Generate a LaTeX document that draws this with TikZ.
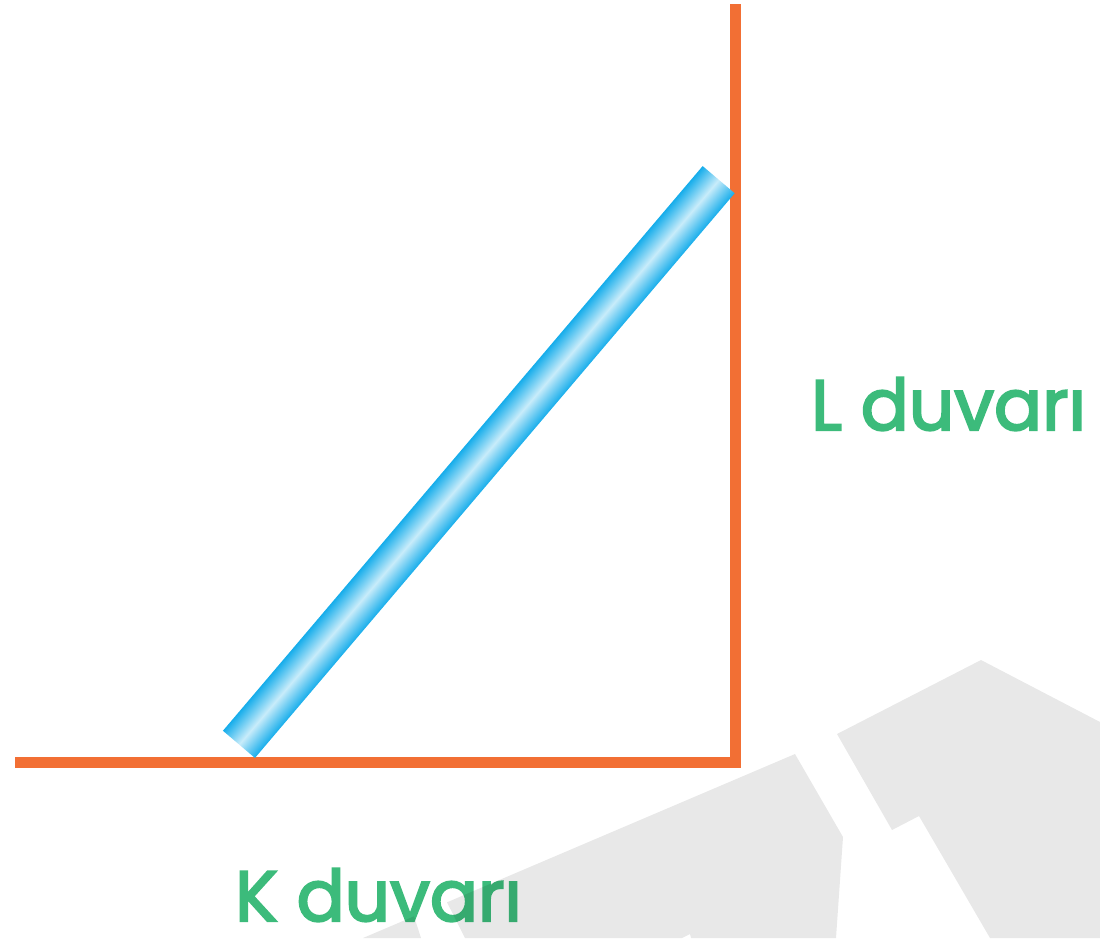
\documentclass[tikz,border=0pt]{standalone}
\usepackage{fontspec}
\setmainfont{Poppins}
\newfontfamily\labelfont{Poppins}[FakeBold=3]
\definecolor{wallorange}{RGB}{242,111,52}
\definecolor{roddark}{RGB}{22,173,235}
\definecolor{rodlight}{RGB}{200,236,250}
\definecolor{labelgreen}{RGB}{60,187,123}
\definecolor{markgrey}{RGB}{232,232,232}
\tikzset{
  wall/.style={draw=wallorange, line width=11pt, line join=miter, line cap=butt},
  walllabel/.style={text=labelgreen, anchor=base west, inner sep=0pt, font=\labelfont\fontsize{71}{78}\selectfont},
  markshape/.style={fill=markgrey, draw=none},
}
\begin{document}
\begin{tikzpicture}[x=1pt,y=-1pt]
\useasboundingbox (0,0) rectangle (1100,938);
% walls
\coordinate (kstart) at (15,762.5);
\coordinate (corner) at (735,762.5);
\coordinate (ltop) at (735,4);
\draw[wall] (kstart) -- (corner) -- (ltop);
% rod
\begin{scope}[transform canvas={shift={(478.8pt,-462pt)}, rotate=49.65}]
  \shade[top color=roddark, bottom color=roddark, middle color=rodlight]
    (-370.5pt,-21pt) rectangle (370.5pt,21pt);
\end{scope}
% labels
\node[walllabel] (L) at (811,430) {L duvarı};
\node[walllabel] (K) at (235,921) {K duvarı};
% watermark shapes
\begin{scope}[blend mode=multiply]
  \fill[markshape] (363,938) -- (414,916.3) -- (421,938) -- cycle;
  \fill[markshape] (447,902.3) -- (795,754) -- (843,837) -- (836,938) -- (691,938) -- (690,934) -- (682,938) -- (465,938) -- cycle;
  \fill[markshape] (981,660) -- (1100,722) -- (1100,938) -- (990,938) -- (919,816) -- (892,830) -- (837,734) -- cycle;
\end{scope}
\end{tikzpicture}
\end{document}
